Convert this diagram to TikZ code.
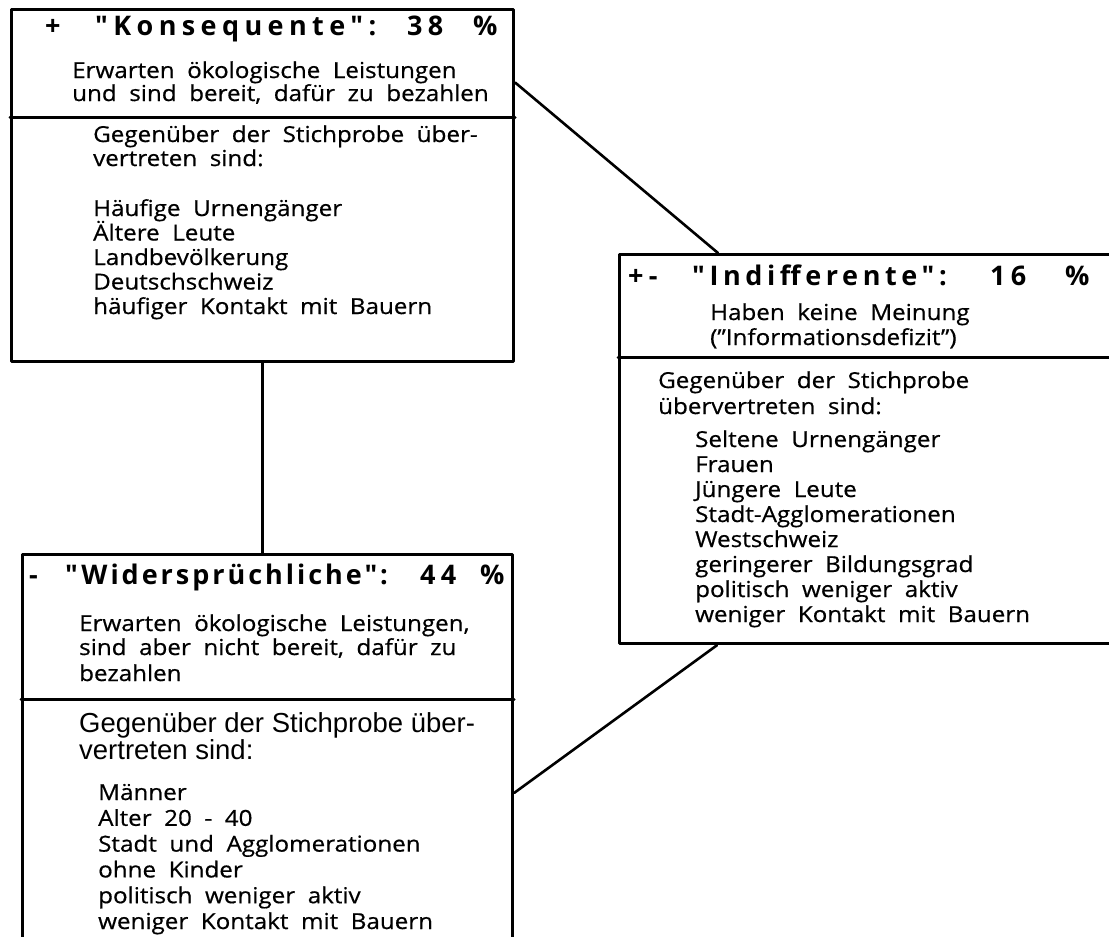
\documentclass[tikz,border=0pt]{standalone}
\usepackage{fontspec}
\setmainfont{Open Sans}[FakeStretch=1.1, WordSpace=2, FakeBold=0.6]
\newfontfamily\konsfont{Open Sans}[LetterSpace=20]
\newfontfamily\indifffont{Open Sans}[LetterSpace=17]
\newfontfamily\widerfont{Open Sans}[LetterSpace=11]
\newfontfamily\titlefont{Open Sans}[LetterSpace=20]
\newfontfamily\helvfont{Liberation Sans}
\usetikzlibrary{calc}

\tikzset{
  groupbox/.style={draw, line width=3.2pt, anchor=north west, inner sep=0pt},
  divider/.style={line width=3pt},
  link/.style={line width=2.6pt},
  headtext/.style={anchor=base west, inner sep=0pt, font=\titlefont\bfseries\fontsize{27}{30}\selectfont},
  bodytext/.style={anchor=base west, inner sep=0pt, font=\fontsize{22}{24}\selectfont},
  helvtext/.style={anchor=base west, inner sep=0pt, font=\helvfont\fontsize{27.5}{28}\selectfont},
}

\begin{document}
\begin{tikzpicture}[x=1pt,y=-1pt,line cap=round,line join=round]
  \useasboundingbox (0,0) rectangle (1109,937);
  % the three boxes
  \node[groupbox, minimum width=502pt, minimum height=352pt] (kons) at (10,8) {};
  \node[groupbox, minimum width=500pt, minimum height=389pt] (indiff) at (618,253) {};
  \node[groupbox, minimum width=490pt, minimum height=400pt] (wider) at (21,553) {};
  \draw[divider] (kons.west |- 0,117) -- (kons.east |- 0,117);
  \draw[divider] (indiff.west |- 0,357) -- (indiff.east |- 0,357);
  \draw[divider] (wider.west |- 0,699) -- (wider.east |- 0,699);

  % connectors
  \coordinate (konsR) at ($(kons.north east)!0.21!(kons.south east)$);
  \coordinate (widerR) at ($(wider.north east)!0.595!(wider.south east)$);
  \draw[link] (kons.south) -- (kons.south |- wider.north);
  \draw[link] (konsR) -- ([xshift=100pt]indiff.north west);
  \draw[link] ([xshift=99pt]indiff.south west) -- (widerR);

  % Konsequente
  \node[headtext] (kons-sign) at (45,35) {+};
  \node[headtext] (kons-name) at (95,35) {\konsfont\bfseries "Konsequente":};
  \node[headtext] (kons-num) at (407,35) {38};
  \node[headtext] (kons-pct) at (473,35) {\%};
  \node[bodytext] (kons-d1) at (72,78) {Erwarten ökologische Leistungen};
  \node[bodytext] (kons-d2) at (72,101) {und sind bereit, dafür zu bezahlen};
  \node[bodytext] (kons-g1) at (93,142) {Gegenüber der Stichprobe über-};
  \node[bodytext] (kons-g2) at (93,166) {vertreten sind:};
  \foreach \txt [count=\i] in {Häufige Urnengänger, Ältere Leute, Landbevölkerung,
      Deutschschweiz, häufiger Kontakt mit Bauern}
    \node[bodytext] (kons-l\i) at (93,216+24.5*\i-24.5) {\txt};

  % Indifferente
  \node[headtext] (indiff-sign) at (628,285) {+-};
  \node[headtext] (indiff-name) at (692,285) {\indifffont\bfseries "Indifferente":};
  \node[headtext] (indiff-num) at (990,285) {16};
  \node[headtext] (indiff-pct) at (1065,285) {\%};
  \node[bodytext] (indiff-d1) at (710,320) {Haben keine Meinung};
  \node[bodytext] (indiff-d2) at (710,345) {("Informationsdefizit")};
  \node[bodytext] (indiff-g1) at (658,388) {Gegenüber der Stichprobe};
  \node[bodytext] (indiff-g2) at (658,414) {übervertreten sind:};
  \foreach \txt [count=\i] in {Seltene Urnengänger, Frauen, Jüngere Leute,
      Stadt-Agglomerationen, Westschweiz, geringerer Bildungsgrad,
      politisch weniger aktiv, weniger Kontakt mit Bauern}
    \node[bodytext] (indiff-l\i) at (695,447+25*\i-25) {\txt};

  % Widerspruechliche
  \node[headtext] (wider-sign) at (29,584) {-};
  \node[headtext] (wider-name) at (65,584) {\widerfont\bfseries "Widersprüchliche":};
  \node[headtext] (wider-num) at (420,584) {44};
  \node[headtext] (wider-pct) at (480,584) {\%};
  \node[bodytext] (wider-d1) at (79,631) {Erwarten ökologische Leistungen,};
  \node[bodytext] (wider-d2) at (79,655) {sind aber nicht bereit, dafür zu};
  \node[bodytext] (wider-d3) at (79,681) {bezahlen};
  \node[helvtext] (wider-g1) at (79,732) {Gegenüber der Stichprobe über-};
  \node[helvtext] (wider-g2) at (79,759) {vertreten sind:};
  \foreach \txt [count=\i] in {Männer, Alter 20 - 40, Stadt und Agglomerationen,
      ohne Kinder, politisch weniger aktiv, weniger Kontakt mit Bauern}
    \node[bodytext] (wider-l\i) at (98,800+25.8*\i-25.8) {\txt};
\end{tikzpicture}
\end{document}
